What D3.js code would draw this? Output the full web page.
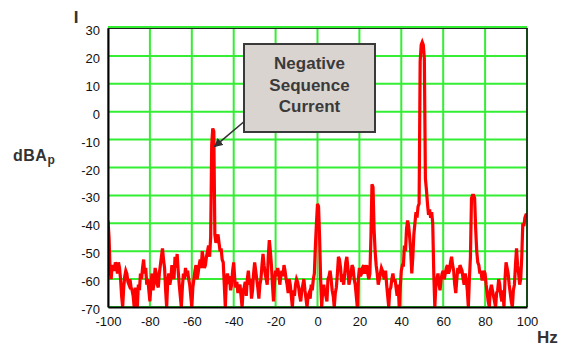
<!DOCTYPE html>
<html>
<head>
<meta charset="utf-8">
<script src="https://cdn.jsdelivr.net/npm/d3@7"></script>
<style>
	body { margin: 0; background: #fff; }
	svg { display: block; }
	.tick text { font-family: 'Liberation Sans', Arial, sans-serif; font-size: 13px; fill: #111; }
	.lbl { font-family: 'Liberation Sans', Arial, sans-serif; font-weight: bold; fill: #333; }
</style>
</head>
<body>
<div id="chart"></div>
<script>
// spectrum, one value per 0.5 Hz (dBA peak)
// -100 .. -0.5 Hz
const levelsNeg = [
	-39, -45, -57, -60, -55, -56, -57, -54, -55, -58, -54, -56, -60, -66, -70, -63, -59, -57, -58, -61,
	-62, -60, -63, -64, -66, -70, -63, -65, -70, -62, -64, -58, -60, -56, -53, -58, -56, -62, -60, -64,
	-68, -62, -58, -64, -61, -56, -58, -62, -63, -58, -55, -52, -49, -53, -56, -64, -70, -61, -58, -62,
	-60, -55, -57, -60, -52, -56, -51, -57, -62, -66, -70, -63, -58, -60, -56, -59, -57, -60, -62, -66,
	-70, -63, -60, -57, -55, -60, -58, -55, -53, -56, -50, -53, -56, -55, -52, -50, -48, -52, -45, -12,
	-6, -7, -44, -47, -45, -44, -47, -50, -49, -53, -54, -62, -70, -60, -58, -60, -59, -64, -62, -57,
	-54, -60, -63, -61, -65, -63, -62, -66, -70, -64, -63, -61, -66, -60, -57, -62, -60, -67, -64, -58,
	-54, -57, -60, -63, -67, -62, -60, -55, -51, -55, -58, -60, -62, -52, -46, -50, -55, -62, -68, -61,
	-57, -59, -56, -58, -62, -59, -57, -59, -55, -57, -60, -62, -65, -60, -62, -66, -70, -64, -66, -62,
	-60, -61, -63, -66, -68, -64, -62, -60, -64, -67, -70, -66, -65, -67, -62, -64, -60, -58, -48, -40
]
// 0 .. 100 Hz
const levelsPos = [
	-33, -34, -45, -60, -70, -64, -62, -65, -66, -68, -60, -59, -57, -60, -64, -66, -70, -65, -63, -58,
	-52, -53, -56, -61, -60, -62, -58, -54, -52, -56, -62, -60, -58, -55, -56, -60, -62, -66, -70, -60,
	-56, -59, -58, -56, -55, -58, -57, -55, -58, -60, -58, -45, -26, -27, -42, -50, -55, -58, -62, -60,
	-58, -56, -57, -59, -60, -57, -62, -66, -70, -64, -63, -60, -58, -61, -60, -63, -66, -62, -70, -63,
	-57, -55, -55, -48, -50, -42, -39, -41, -45, -50, -58, -52, -44, -40, -36, -38, -34, -33, 18, 24,
	25, 24, 19, -24, -28, -33, -37, -35, -38, -36, -40, -58, -70, -62, -60, -58, -62, -64, -60, -58,
	-57, -60, -58, -56, -55, -58, -57, -54, -52, -55, -57, -62, -65, -60, -56, -58, -55, -56, -57, -60,
	-62, -58, -60, -64, -70, -60, -52, -31, -30, -30, -31, -42, -50, -54, -55, -58, -57, -60, -60, -57,
	-58, -62, -65, -68, -70, -64, -62, -64, -66, -68, -70, -65, -64, -60, -62, -66, -68, -64, -70, -60,
	-54, -56, -58, -62, -65, -68, -70, -64, -62, -55, -49, -55, -58, -62, -60, -52, -40, -41, -38, -37,
	-37
]
const freqs = d3.range(-100, 100.25, 0.5)
const xTicks = [-100, -80, -60, -40, -20, 0, 20, 40, 60, 80, 100]
const yTicks = [30, 20, 10, 0, -10, -20, -30, -40, -50, -60, -70]
const noteLines = ['Negative', 'Sequence', 'Current']
const notePoint = {hz: -49.2, db: -12.5}

const allLevels = levelsNeg.concat(levelsPos)
const spectrum = freqs.map((f, i) => ({hz: f, db: allLevels[i]}))

const W = 564, H = 347
const margin = {top: 28, right: 37, bottom: 40, left: 108}
const width = W - margin.left - margin.right,
	height = H - margin.top - margin.bottom

const svg = d3.select('#chart').append('svg').attr('width', W).attr('height', H)
const g = svg.append('g').attr('transform', 'translate(' + margin.left + ',' + margin.top + ')')

const x = d3.scaleLinear().domain([-100, 100]).range([0, width])
const y = d3.scaleLinear().domain([-70, 30]).range([height, 0])

// green grid
g.append('g')
	.selectAll('line')
	.data(xTicks)
	.enter()
	.append('line')
	.attr('x1', d => x(d)).attr('x2', d => x(d))
	.attr('y1', 0).attr('y2', height)
	.style('stroke', '#33ee33').style('stroke-width', 2)
g.append('g')
	.selectAll('line')
	.data(yTicks)
	.enter()
	.append('line')
	.attr('x1', 0).attr('x2', width)
	.attr('y1', d => (d === 30 ? y(d) - 1 : y(d))).attr('y2', d => (d === 30 ? y(d) - 1 : y(d)))
	.style('stroke', '#33ee33').style('stroke-width', 2)

// spectrum line
g.append('clipPath').attr('id', 'clip').append('rect').attr('width', width).attr('height', height)
const line = d3.line().x(d => x(d.hz)).y(d => y(d.db))
g.append('path')
	.datum(spectrum)
	.attr('clip-path', 'url(#clip)')
	.attr('d', line)
	.style('fill', 'none')
	.style('stroke', '#ff0000')
	.style('stroke-width', 3.2)
	.style('stroke-linejoin', 'miter')

// frame
g.append('line').attr('x1', 0).attr('x2', width).attr('y1', 0.5).attr('y2', 0.5).style('stroke', '#222').style('stroke-width', 1)
g.append('line').attr('x1', width).attr('x2', width).attr('y1', 0).attr('y2', height).style('stroke', '#111').style('stroke-width', 1.5)

// axes
const fmt = d => String(d)
const xAxis = g.append('g')
	.attr('transform', 'translate(0,' + height + ')')
	.call(d3.axisBottom(x).tickValues(xTicks).tickSize(0).tickPadding(10).tickFormat(fmt))
xAxis.select('.domain').style('stroke', '#000').style('stroke-width', 2)
const yAxis = g.append('g')
	.call(d3.axisLeft(y).tickValues(yTicks).tickSize(0).tickPadding(8).tickFormat(fmt))
yAxis.select('.domain').style('stroke', '#000').style('stroke-width', 2)
yAxis.selectAll('.tick text').attr('dy', '0.5em')

// titles
svg.append('text').attr('class', 'lbl').attr('x', 76).attr('y', 23).attr('text-anchor', 'middle').style('font-size', '17px').text('I')
const yl = svg.append('text').attr('class', 'lbl').attr('x', 13).attr('y', 161).style('font-size', '16px').style('letter-spacing', '0.5px')
yl.append('tspan').text('dBA')
yl.append('tspan').attr('dy', 3).style('font-size', '12px').text('p')
svg.append('text').attr('class', 'lbl').attr('x', 537).attr('y', 343).style('font-size', '17px').text('Hz')

// annotation
const box = {x: 244, y: 44, w: 131, h: 88}
const tipX = margin.left + x(notePoint.hz), tipY = margin.top + y(notePoint.db)
svg.append('defs').append('marker')
	.attr('id', 'arrowhead')
	.attr('viewBox', '0 0 10 10')
	.attr('refX', 9).attr('refY', 5)
	.attr('markerWidth', 9).attr('markerHeight', 9)
	.attr('markerUnits', 'userSpaceOnUse')
	.attr('orient', 'auto')
	.append('path').attr('d', 'M0,0 L10,5 L0,10 Z').style('fill', '#333')
svg.append('line')
	.attr('x1', box.x + 2).attr('y1', box.y + box.h - 12)
	.attr('x2', tipX).attr('y2', tipY)
	.style('stroke', '#333').style('stroke-width', 1.6)
	.attr('marker-end', 'url(#arrowhead)')
svg.append('rect')
	.attr('x', box.x).attr('y', box.y).attr('width', box.w).attr('height', box.h)
	.style('fill', '#dad4d1').style('stroke', '#3a3a3a').style('stroke-width', 2)
svg.append('g')
	.selectAll('text')
	.data(noteLines)
	.enter()
	.append('text')
	.attr('class', 'lbl')
	.attr('x', box.x + box.w / 2)
	.attr('y', (d, i) => 69 + i * 21.7)
	.attr('text-anchor', 'middle')
	.style('font-size', '17px')
	.style('fill', '#3a3a3a')
	.text(d => d)
</script>
</body>
</html>
